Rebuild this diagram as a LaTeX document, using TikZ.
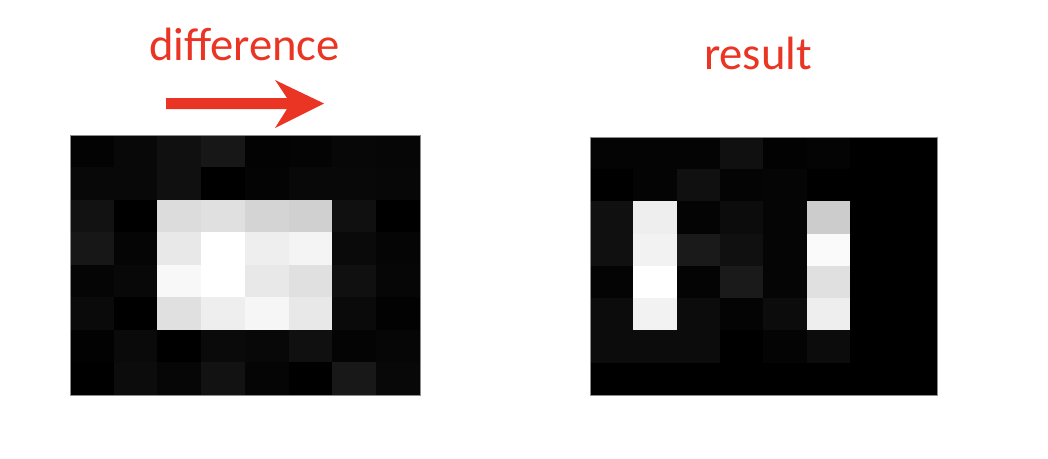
\documentclass[tikz,border=0pt]{standalone}
\usepackage{fontspec}
\setmainfont{Carlito}
\definecolor{diffred}{RGB}{234,52,36}
\tikzset{every picture/.style={line width=0.75pt}}
\tikzset{redlabel/.style={text=diffred,font=\fontsize{35}{40}\selectfont,inner sep=0pt,anchor=base}}

\begin{document}
\begin{tikzpicture}[x=0.75pt,y=0.75pt,yscale=-1,xscale=1]
        \useasboundingbox (0,0) rectangle (1048,458);

        %Text labels
        \node [redlabel] (difflabel) at (244.5,60) {difference};
        \node [redlabel] (resultlabel) at (758,69) {result};

        %Arrow
        \coordinate (arrowstart) at (166,98);
        \coordinate (arrowtip) at (324,103.5);
        \fill [diffred] (arrowstart) -- (287,98) -- (275,80) -- (arrowtip) -- (275,128) -- (287,109) -- (166,109) -- cycle ;

        %Left grid
        \foreach \row [count=\r from 0] in {{3,8,16,23,3,4,7,6},{8,8,16,0,4,8,8,7},{18,0,220,224,212,208,16,0},{23,5,232,255,238,244,10,5},{5,8,248,255,232,224,16,6},{10,0,224,238,246,232,10,2},{2,10,0,10,8,16,4,6},{0,12,6,18,5,0,24,8}}{
            \foreach \v [count=\c from 0] in \row {
                \definecolor{cellgray}{RGB}{\v,\v,\v}
                \fill [cellgray,draw=cellgray,line width=0.3] ({70+\c*43.75},{135+\r*32.5}) rectangle +(43.75,32.5) ;
            }
        }
        \draw [black!45,line width=0.5] (70,135) rectangle (420,395) ;

        %Right grid
        \foreach \row [count=\r from 0] in {{4,4,4,16,2,4,0,0},{0,4,16,4,5,0,0,0},{16,238,4,12,5,204,0,0},{16,242,26,16,5,250,0,0},{4,255,4,26,5,224,0,0},{12,242,12,4,12,238,0,0},{12,12,12,0,4,12,0,0},{0,0,0,0,0,0,0,0}}{
            \foreach \v [count=\c from 0] in \row {
                \definecolor{cellgray}{RGB}{\v,\v,\v}
                \fill [cellgray,draw=cellgray,line width=0.3] ({590+\c*43.375},{137+\r*32.25}) rectangle +(43.375,32.25) ;
            }
        }
        \draw [black!45,line width=0.5] (590,137) rectangle (937,395) ;
\end{tikzpicture}
\end{document}
